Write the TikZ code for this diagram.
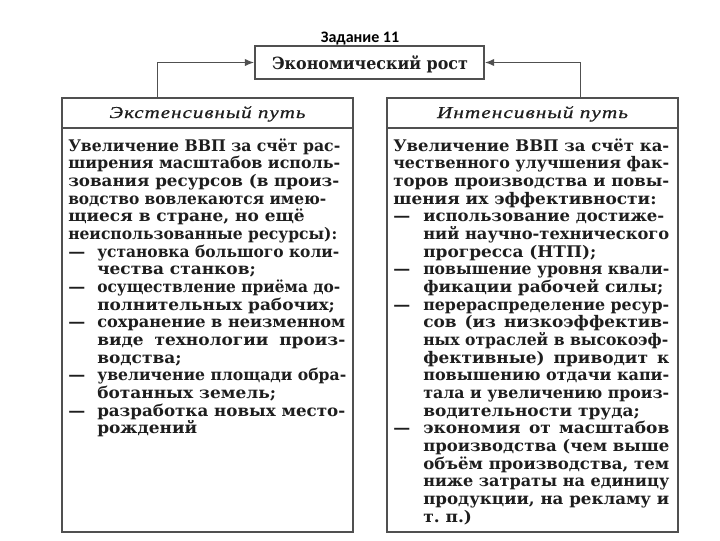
\documentclass[tikz,border=0pt]{standalone}
\usepackage{fontspec}
\usepackage{graphicx}
\setmainfont{DejaVu Serif}
\newfontfamily\bodyf{DejaVu Serif}[FakeStretch=1.06]
\newfontfamily\hdf{Liberation Serif}[FakeStretch=1.2,LetterSpace=6,FakeBold=0.6]
\newfontfamily\titlefont{Carlito}
\usetikzlibrary{arrows.meta,fit}
\frenchspacing
\newdimen\pxu \pxu=0.75pt
\newlength\natw
\newcommand\fitj[2]{\settowidth\natw{#2}\ifdim\natw>#1\pxu\relax\resizebox{#1\pxu}{\height}{#2}\else\makebox[#1\pxu][s]{#2}\fi}
\newcommand\fitn[2]{\settowidth\natw{#2}\ifdim\natw>#1\pxu\relax\resizebox{#1\pxu}{\height}{#2}\else #2\fi}
\newcommand\fitw[2]{\resizebox{#1\pxu}{\height}{#2}}
\newcommand\dsh[1]{\makebox[#1\pxu][l]{—}}
\definecolor{txt}{HTML}{1E1E1E}
\definecolor{ln}{HTML}{505050}
\begin{document}
\begin{tikzpicture}[x=0.75pt,y=-0.75pt,
  box/.style={draw=ln,line width=1.1pt,inner sep=0pt},
  sep/.style={draw=ln,line width=1.1pt},
  bl/.style={anchor=base west,inner sep=0pt,text=txt,font=\bodyf\fontsize{12pt}{14pt}\selectfont\bfseries},
  hd/.style={anchor=base,inner sep=0pt,text=txt,font=\hdf\fontsize{12.5pt}{14pt}\selectfont\itshape},
  conn/.style={draw=ln,line width=1.1pt,-{Latex[length=7pt,width=5.5pt]}}]
\fill[white] (0,0) rectangle (720,540);
\useasboundingbox (0,0) rectangle (720,540);

\node[anchor=base,inner sep=0pt,text=black,font=\titlefont\fontsize{12pt}{13pt}\selectfont\bfseries] (title) at (360,42.7) {Задание 11};

\node[box,fit={(255,46) (484,79)}] (top) {};
\node[anchor=base,inner sep=0pt,text=txt,font=\bodyf\fontsize{12.6pt}{14pt}\selectfont\bfseries] (toplabel) at (370,69) {\fitw{196}{Экономический рост}};

\node[box,fit={(62,98) (353,532)}] (lbox) {};
\node[box,fit={(387,98) (678,532)}] (rbox) {};
\draw[sep] (lbox.west |- 0,128) -- (lbox.east |- 0,128);
\draw[sep] (rbox.west |- 0,128) -- (rbox.east |- 0,128);
\node[hd] (lhead) at (207.5,118) {\fitw{196}{Экстенсивный путь}};
\node[hd] (rhead) at (532.5,118) {\fitw{191}{Интенсивный путь}};

\draw[conn] ([xshift=72pt]lbox.north west) |- (top.west);
\draw[conn] ([xshift=145.5pt]rbox.north west) |- (top.east);

% left column
\node[bl] (l1) at (68,151) {\fitj{272}{Увеличение ВВП за счёт рас-}};
\node[bl] (l2) at (68,168.67) {\fitj{272}{ширения масштабов исполь-}};
\node[bl] (l3) at (68,186.34) {\fitj{271}{зования ресурсов (в произ-}};
\node[bl] (l4) at (68,204.01) {\fitj{258}{водство вовлекаются имею-}};
\node[bl] (l5) at (68,221.68) {\fitn{272}{щиеся в стране, но ещё}};
\node[bl] (l6) at (68,239.35) {\fitj{269}{неиспользованные ресурсы):}};
\node[bl] (l7) at (68,257.02) {\dsh{29}\fitj{242}{установка большого коли-}};
\node[bl] (l8) at (97,274.69) {\fitn{245}{чества станков;}};
\node[bl] (l9) at (68,292.36) {\dsh{29}\fitj{243}{осуществление приёма до-}};
\node[bl] (l10) at (97,310.03) {\fitn{245}{полнительных рабочих;}};
\node[bl] (l11) at (68,327.7) {\dsh{29}\fitj{248}{сохранение в неизменном}};
\node[bl] (l12) at (97,345.37) {\fitj{248}{виде технологии произ-}};
\node[bl] (l13) at (97,363.04) {\fitn{245}{водства;}};
\node[bl] (l14) at (68,380.71) {\dsh{29}\fitj{249}{увеличение площади обра-}};
\node[bl] (l15) at (97,398.38) {\fitn{245}{ботанных земель;}};
\node[bl] (l16) at (68,416.05) {\dsh{29}\fitj{248}{разработка новых место-}};
\node[bl] (l17) at (97,433.72) {\fitn{245}{рождений}};

% right column
\node[bl] (r1) at (393,151) {\fitj{276}{Увеличение ВВП за счёт ка-}};
\node[bl] (r2) at (393,168.67) {\fitj{276}{чественного улучшения фак-}};
\node[bl] (r3) at (393,186.34) {\fitj{276}{торов производства и повы-}};
\node[bl] (r4) at (393,204.01) {\fitn{276}{шения их эффективности:}};
\node[bl] (r5) at (393,221.68) {\dsh{30}\fitj{241}{использование достиже-}};
\node[bl] (r6) at (423,239.35) {\fitn{246}{ний научно-технического}};
\node[bl] (r7) at (423,257.02) {\fitn{246}{прогресса (НТП);}};
\node[bl] (r8) at (393,274.69) {\dsh{30}\fitj{246}{повышение уровня квали-}};
\node[bl] (r9) at (423,292.36) {\fitn{246}{фикации рабочей силы;}};
\node[bl] (r10) at (393,310.03) {\dsh{30}\fitj{246}{перераспределение ресур-}};
\node[bl] (r11) at (423,327.7) {\fitj{246}{сов (из низкоэффектив-}};
\node[bl] (r12) at (423,345.37) {\fitj{245}{ных отраслей в высокоэф-}};
\node[bl] (r13) at (423,363.04) {\fitj{246}{фективные) приводит к}};
\node[bl] (r14) at (423,380.71) {\fitj{246}{повышению отдачи капи-}};
\node[bl] (r15) at (423,398.38) {\fitj{246}{тала и увеличению произ-}};
\node[bl] (r16) at (423,416.05) {\fitn{246}{водительности труда;}};
\node[bl] (r17) at (393,433.72) {\dsh{30}\fitj{246}{экономия от масштабов}};
\node[bl] (r18) at (423,451.39) {\fitj{246}{производства (чем выше}};
\node[bl] (r19) at (423,469.06) {\fitj{246}{объём производства, тем}};
\node[bl] (r20) at (423,486.73) {\fitj{246}{ниже затраты на единицу}};
\node[bl] (r21) at (423,504.4) {\fitj{246}{продукции, на рекламу и}};
\node[bl] (r22) at (423,522.07) {\fitn{246}{т. п.)}};
\end{tikzpicture}
\end{document}
